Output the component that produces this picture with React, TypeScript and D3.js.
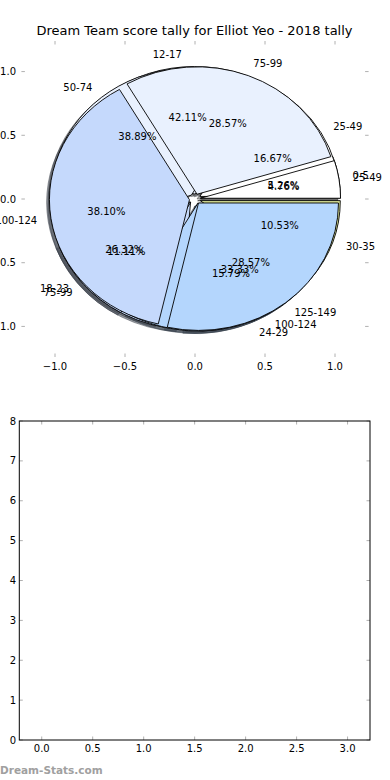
import React from "react";
import * as d3 from "d3";

const W = 390;
const H = 780;

const title = "Dream Team score tally for Elliot Yeo - 2018 tally";

// three pies stacked on one axes (drawn in this order)
const pie1Labels = ["0-5", "12-17", "18-23", "24-29", "30-35"];
const pie1Values = [1, 8, 5, 3, 2];
const pie3Labels = ["25-49", "50-74", "75-99", "100-124"];
const pie3Values = [3, 7, 2, 6];
const pie2Labels = ["25-49", "75-99", "100-124", "125-149"];
const pie2Values = [1, 6, 8, 6];

const sliceColors = ["#ffffff", "#e9f1fe", "#c5d9fc", "#b4d6fd", "#e6f0a0"];

const pieTicks = [-1, -0.5, 0, 0.5, 1];
const barXTicks = [0, 0.5, 1, 1.5, 2, 2.5, 3];
const barYTicks = [0, 1, 2, 3, 4, 5, 6, 7, 8];

const font = "DejaVu Sans, sans-serif";
const explode = 0.04;

const fmtTick = (v: number) => (v < 0 ? "\u2212" : "") + Math.abs(v).toFixed(1);
const darken = (c: string) => {
  const rgb = d3.rgb(c);
  return d3.rgb(rgb.r * 0.3, rgb.g * 0.3, rgb.b * 0.3).formatHex();
};

// top axes
const px = d3.scaleLinear().domain([-1.24, 1.24]).range([21.4, 368.6]);
const py = d3.scaleLinear().domain([-1.24, 1.24]).range([357, 41]);
const kx = px(1) - px(0);
const ky = py(0) - py(1);

// bottom axes
const bx = d3.scaleLinear().domain([-0.22, 3.22]).range([19.3, 370]);
const by = d3.scaleLinear().domain([0, 8]).range([740, 421]);

const arc = d3.arc<any>().innerRadius(0).outerRadius(1);
const pieGen = d3
  .pie<number>()
  .sort(null)
  .value((d) => d)
  .startAngle(Math.PI / 2)
  .endAngle(Math.PI / 2 + 2 * Math.PI);

const pies = [
  { labels: pie1Labels, values: pie1Values },
  { labels: pie3Labels, values: pie3Values },
  { labels: pie2Labels, values: pie2Values },
].map((p) => {
  const total = d3.sum(p.values);
  return pieGen(p.values).map((s, i) => {
    const theta = (s.startAngle + s.endAngle) / 2 - Math.PI / 2;
    return {
      s,
      label: p.labels[i],
      pct: ((p.values[i] / total) * 100).toFixed(2) + "%",
      color: sliceColors[i],
      cos: Math.cos(theta),
      sin: Math.sin(theta),
    };
  });
});
const slices = pies.flat();

export default function App() {
  return (
    <svg
      width={W}
      height={H}
      style={{ position: "absolute", left: 0, top: 0, background: "#fff" }}
      fontFamily={font}
    >
      <text x={194.5} y={30} fontSize={13} textAnchor="middle" dominantBaseline="central">
        {title}
      </text>

      {/* pie axes ticks */}
      {pieTicks.map((t) => (
        <g key={"px" + t} stroke="#b0b0b0">
          <line x1={px(t)} x2={px(t)} y1={41} y2={44.5} />
          <line x1={px(t)} x2={px(t)} y1={357} y2={353.5} />
          <line y1={py(t)} y2={py(t)} x1={21.4} x2={24.9} />
          <line y1={py(t)} y2={py(t)} x1={368.6} x2={365.1} />
        </g>
      ))}
      {pieTicks.map((t) => (
        <text key={"pxl" + t} x={px(t)} y={366} fontSize={10} textAnchor="middle" dominantBaseline="central">
          {fmtTick(t)}
        </text>
      ))}
      {pieTicks.map((t) => (
        <text key={"pyl" + t} x={16} y={py(t)} fontSize={10} textAnchor="end" dominantBaseline="central">
          {fmtTick(t)}
        </text>
      ))}

      <g transform={`translate(${px(0)},${py(0)}) scale(${kx},${-ky})`}>
        {/* shadows sit below every wedge */}
        {slices.map((d, i) => (
          <path
            key={"sh" + i}
            d={arc(d.s) as string}
            transform={`translate(${explode * d.cos - 0.02},${explode * d.sin - 0.02})`}
            fill={darken(d.color)}
            fillOpacity={0.5}
            stroke={darken(d.color)}
            strokeOpacity={0.5}
            strokeWidth={1}
            vectorEffect="non-scaling-stroke"
          />
        ))}
        {slices.map((d, i) => (
          <path
            key={"w" + i}
            d={arc(d.s) as string}
            transform={`translate(${explode * d.cos},${explode * d.sin})`}
            fill={d.color}
            stroke="#000"
            strokeWidth={0.9}
            strokeLinejoin="miter"
            vectorEffect="non-scaling-stroke"
          />
        ))}
      </g>

      {slices.map((d, i) => {
        const lx = explode * d.cos + 1.1 * d.cos;
        const ly = explode * d.sin + 1.1 * d.sin;
        return (
          <text
            key={"l" + i}
            x={px(lx)}
            y={py(ly)}
            fontSize={10}
            textAnchor={lx > 0 ? "start" : "end"}
            dominantBaseline="central"
          >
            {d.label}
          </text>
        );
      })}
      {slices.map((d, i) => (
        <text
          key={"p" + i}
          x={px(explode * d.cos + 0.6 * d.cos)}
          y={py(explode * d.sin + 0.6 * d.sin)}
          fontSize={10}
          textAnchor="middle"
          dominantBaseline="central"
        >
          {d.pct}
        </text>
      ))}

      {/* empty bottom axes */}
      {barXTicks.map((t) => (
        <g key={"bx" + t} stroke="#b0b0b0">
          <line x1={bx(t)} x2={bx(t)} y1={421} y2={424.5} />
          <line x1={bx(t)} x2={bx(t)} y1={740} y2={736.5} />
        </g>
      ))}
      {barYTicks.map((t) => (
        <g key={"by" + t} stroke="#b0b0b0">
          <line y1={by(t)} y2={by(t)} x1={19.3} x2={22.8} />
          <line y1={by(t)} y2={by(t)} x1={370} x2={366.5} />
        </g>
      ))}
      <rect x={19.3} y={421} width={370 - 19.3} height={740 - 421} fill="none" stroke="#000" strokeWidth={1} />
      {barXTicks.map((t) => (
        <text key={"bxl" + t} x={bx(t)} y={748} fontSize={10} textAnchor="middle" dominantBaseline="central">
          {t.toFixed(1)}
        </text>
      ))}
      {barYTicks.map((t) => (
        <text key={"byl" + t} x={16} y={by(t)} fontSize={10} textAnchor="end" dominantBaseline="central">
          {t}
        </text>
      ))}

      <text x={0} y={774} fontSize={10.5} fontWeight="bold" fill="#a0a0a0">
        Dream-Stats.com
      </text>
    </svg>
  );
}
